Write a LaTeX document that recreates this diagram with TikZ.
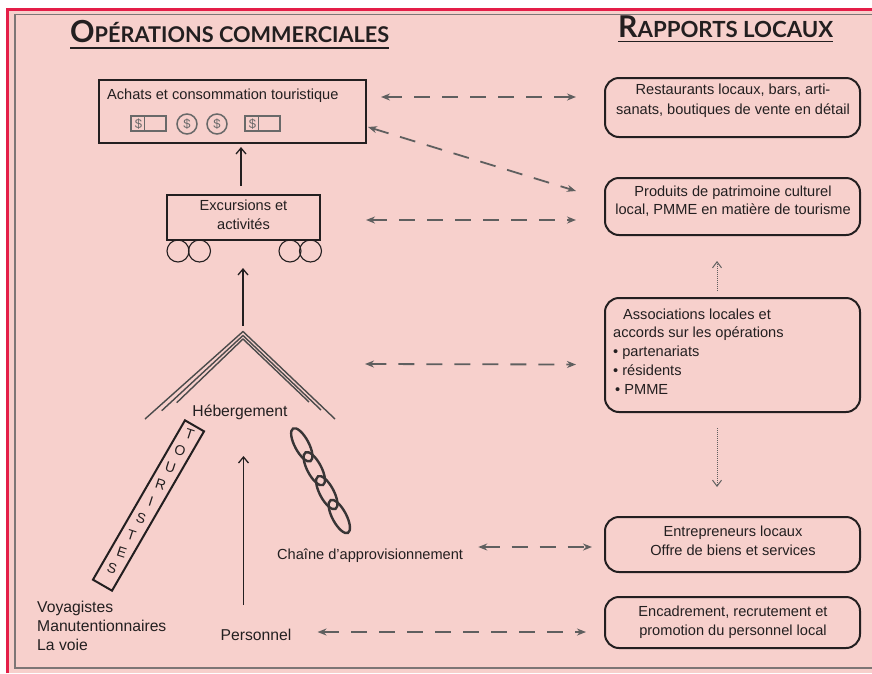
\documentclass[tikz,border=0pt]{standalone}
\usepackage{fontspec}
\usepackage{graphicx}
\setmainfont{Liberation Sans}
\newfontfamily\headfont{Lato}
\usetikzlibrary{arrows.meta,calc,shapes.geometric}
\definecolor{bgpink}{RGB}{247,208,204}
\definecolor{framered}{RGB}{228,30,72}
\definecolor{framegray}{RGB}{125,118,118}
\definecolor{ink}{RGB}{35,31,32}
\definecolor{arrgray}{RGB}{95,95,95}
\definecolor{icongray}{RGB}{105,105,105}
\definecolor{roofgray}{RGB}{75,75,75}
\tikzset{
  txt/.style={font=\fontsize{14.6}{19}\selectfont, text=ink, inner sep=0pt},
  txtL/.style={font=\fontsize{15.7}{19}\selectfont, text=ink, inner sep=0pt},
  sqbox/.style={draw=ink, line width=2pt, inner sep=0pt},
  rbox/.style={draw=ink, line width=2pt, rounded corners=14pt, minimum width=255pt, inner sep=0pt},
  wheel/.style={circle, draw=ink, line width=1.1pt, minimum width=20pt, minimum height=22pt, inner sep=0pt},
  icon/.style={draw=icongray, line width=1.5pt, inner sep=0pt},
  icontxt/.style={text=icongray, font=\fontsize{13}{13}\selectfont, inner sep=0pt},
  roofline/.style={draw=roofgray, line width=1.4pt},
  chainlink/.style={ellipse, draw=ink!90, line width=2.4pt, minimum width=37pt, minimum height=14pt, inner sep=0pt, rotate=-62},
  dasharr/.style={draw=arrgray, line width=1.8pt, dash pattern=on 16pt off 12pt,
    arrows={Stealth[length=9pt,width=7pt]-Stealth[length=9pt,width=7pt]}},
  dotarr/.style={draw=arrgray, line width=1pt, dash pattern=on 0.8pt off 1.2pt, arrows={-Straight Barb[length=6pt,width=9pt]}},
  solarr/.style={draw=ink, line width=1.3pt, arrows={-Straight Barb[length=6pt,width=10pt]}},
  tourletter/.style={font=\fontsize{14}{14}\selectfont, text=ink, inner sep=0pt, rotate=-18},
}
\begin{document}
\begin{tikzpicture}[x=1pt,y=-1pt]
\useasboundingbox (0,0) rectangle (872,673);
% frame
\fill[white] (0,0) rectangle (872,673);
\fill[bgpink] (7,9) rectangle (872,673);
\draw[framered, line width=2.5pt] (7.5,673) -- (7.5,9.5) -- (872,9.5);
\draw[framegray, line width=1.3pt] (872,668) -- (15,668) -- (15,14.5) -- (872,14.5);

% headers
\node[inner sep=0pt, anchor=base west, text=ink] (h1) at (70,42)
  {\resizebox{319pt}{!}{\headfont\bfseries\fontsize{21}{21}\selectfont O\fontsize{15}{15}\selectfont PÉRATIONS COMMERCIALES}};
\draw[ink, line width=1.4pt] ($(h1.base west)+(0,6)$) -- ($(h1.base east)+(0,6)$);
\node[inner sep=0pt, anchor=base west, text=ink] (h2) at (618,37)
  {\resizebox{215pt}{!}{\headfont\bfseries\fontsize{21}{21}\selectfont R\fontsize{15.5}{15.5}\selectfont APPORTS LOCAUX}};
\draw[ink, line width=1.4pt] ($(h2.base west)+(0,4.5)$) -- ($(h2.base east)+(0,4.5)$);

% Achats box
\node[sqbox, minimum width=267pt, minimum height=63pt] (achats) at (232.5,111.5) {};
\node[txt, anchor=west] (achatsT) at (107,96) {Achats et consommation touristique};
\node[icon, minimum width=35pt, minimum height=15pt] (bill1) at (148.5,123.5) {};
\node[icontxt] (bill1d) at (138.5,124) {\$};
\draw[icon] ($(bill1.north west)+(14,0)$) -- ($(bill1.south west)+(14,0)$);
\node[icon, circle, minimum size=20pt] (coin1) at (187,124) {};
\node[icontxt] (coin1d) at (coin1) {\$};
\node[icon, circle, minimum size=20pt] (coin2) at (217,124) {};
\node[icontxt] (coin2d) at (coin2) {\$};
\node[icon, minimum width=35pt, minimum height=15pt] (bill2) at (262.5,123.5) {};
\node[icontxt] (bill2d) at (252.5,124) {\$};
\draw[icon] ($(bill2.north west)+(14,0)$) -- ($(bill2.south west)+(14,0)$);

% Excursions cart
\node[sqbox, minimum width=153pt, minimum height=45pt] (exc) at (243.5,217.5) {};
\node[txt, align=center] (excT) at (243.5,215) {Excursions et\\activités};
\node[wheel] (w1) at (178,251) {};
\node[wheel] (w2) at (199.5,251) {};
\node[wheel] (w3) at (290,251) {};
\node[wheel] (w4) at (310.5,251) {};
\draw[solarr] ($(exc.north)+(-2.5,-8)$) -- ($(achats.south)+(8.5,3)$);

% roof
\coordinate (apex) at (243,331.5);
\draw[roofline] (145,419) -- (apex) -- (335,419);
\draw[roofline] (161.7,410.7) -- ($(apex)+(0,4)$) -- (321,410);
\draw[roofline] (176.7,402.7) -- ($(apex)+(0,7.5)$) -- (309,402);
\draw[solarr] ($(apex)+(0,-6)$) -- ($(exc.south)+(-0.5,27)$);
\node[txtL] (heb) at (240,412) {Hébergement};

% Touristes
\node[draw=ink, line width=2pt, minimum width=184pt, minimum height=22pt, inner sep=0pt, rotate=60] (tour) at (148.5,505.5) {};
\foreach \L [count=\i from 0] in {T,O,U,R,I,S,T,E,S}{
  \pgfmathsetmacro{\tt}{0.0565+\i*0.1045}
  \node[tourletter] (tl\i) at ($(tour.east)!\tt!(tour.west)$) {\L};
}

% chain
\node[chainlink] (ch1) at (301.8,444.8) {};
\node[chainlink] (ch2) at (314.3,468.7) {};
\node[chainlink] (ch3) at (326.8,492.6) {};
\node[chainlink] (ch4) at (339.3,516.5) {};
\node[txt, anchor=west] (chaine) at (277,556) {Chaîne d’approvisionnement};

% personnel
\coordinate (pbase) at (243.5,605);
\coordinate (ptip) at (243.5,456);
\draw[solarr] (pbase) -- (ptip);
\node[txtL] (pers) at (256,635) {Personnel};
\node[txtL, anchor=west, align=left] (voy) at (37,626) {Voyagistes\\Manutentionnaires\\La voie};

% right boxes
\node[rbox, minimum height=59pt] (r1) at (732.5,107.5) {};
\node[txt, align=center, font=\fontsize{14.6}{20}\selectfont] (r1t) at (733,101) {Restaurants locaux, bars, arti-\\sanats, boutiques de vente en détail};
\node[rbox, minimum height=57pt] (r2) at (732.5,206.5) {};
\node[txt, align=center, font=\fontsize{14.6}{18.5}\selectfont] (r2t) at (733,201) {Produits de patrimoine culturel\\local, PMME en matière de tourisme};
\node[rbox, minimum height=114pt] (r3) at (732.5,355) {};
\node[txt, align=left, anchor=west, font=\fontsize{14.6}{18.8}\selectfont] (r3t) at (613,351.5) {\hspace*{10pt}Associations locales et\\accords sur les opérations\\• partenariats\\• résidents\\\hspace*{2pt}• PMME};
\node[rbox, minimum height=55pt] (r4) at (732.5,544.5) {};
\node[txt, align=center] (r4t) at (733,540.5) {Entrepreneurs locaux\\Offre de biens et services};
\node[rbox, minimum height=51pt] (r5) at (732.5,622.5) {};
\node[txt, align=center] (r5t) at (733,622.5) {Encadrement, recrutement et\\promotion du personnel local};

% dashed connectors
\draw[dasharr] ($(achats.east)+(14,-14.5)$) -- ($(r1.west)+(-28,-10.5)$);
\draw[dasharr] ($(achats.east)+(1,15.5)$) -- ($(r2.west)+(-28,-15.5)$);
\draw[dasharr] ($(exc.east)+(45,2.5)$) -- ($(r2.west)+(-28,13.5)$);
\draw[dasharr] ($(apex)+(122,32.5)$) -- ($(r3.west)+(-28,9.5)$);
\draw[dasharr] ($(chaine.east)+(15,-9)$) -- ($(r4.west)+(-12,2.5)$);
\draw[dasharr] ($(pers.east)+(26,-3)$) -- ($(r5.west)+(-18,9.5)$);

% dotted connectors
\draw[dotarr] ($(r3.north)+(-15.5,-6)$) -- ($(r2.south)+(-15.5,25)$);
\draw[dotarr] ($(r3.south)+(-15.5,15)$) -- ($(r4.north)+(-15.5,-29)$);
\end{tikzpicture}
\end{document}
